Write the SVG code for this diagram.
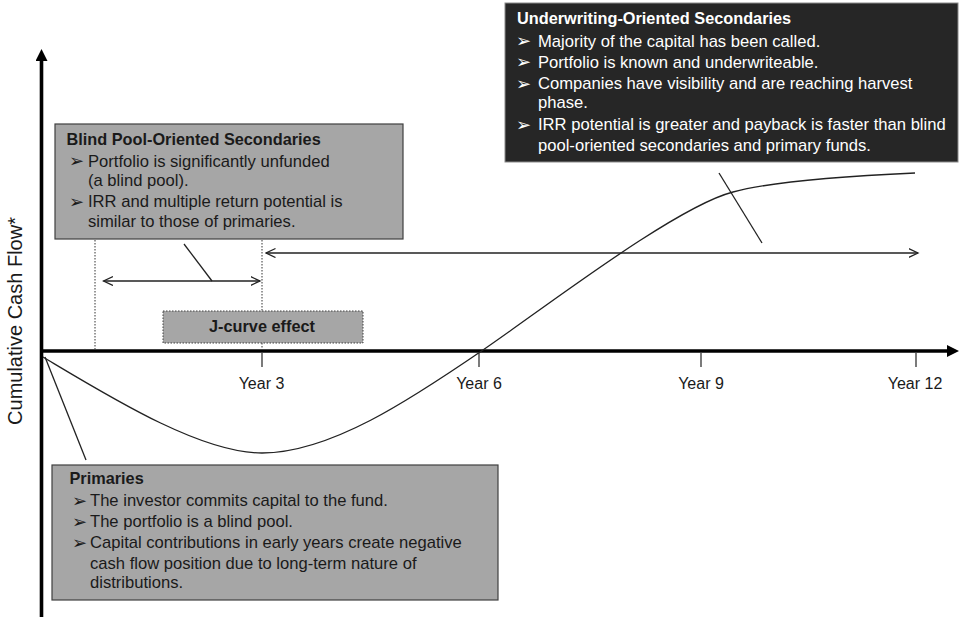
<svg xmlns="http://www.w3.org/2000/svg" width="960" height="617" viewBox="0 0 960 617">
<style>
text{font-family:"Liberation Sans",Arial,sans-serif;fill:#1a1a1a}
.t{font-size:16.3px;font-weight:bold}
.b{font-size:16.6px}
.bl{font-family:"DejaVu Sans","Liberation Sans",sans-serif;font-size:18px}
.w{fill:#ffffff}
.yr{font-size:16px;text-anchor:middle}
.ax{stroke:#000;stroke-width:3.6;fill:none}
.tick{stroke:#333;stroke-width:1.3}
.dot{stroke:#333;stroke-width:1;stroke-dasharray:1.5 1.5;fill:none}
.ln{stroke:#222;stroke-width:1.3;fill:none}
.grey{fill:#a6a6a6;stroke:#404040;stroke-width:1.2}
</style>
<defs>
<marker id="axh" markerUnits="userSpaceOnUse" markerWidth="13" markerHeight="13" refX="0" refY="6" orient="auto"><path d="M0,0 L12,6 L0,12 z" fill="#000"/></marker>
<marker id="oa" markerUnits="userSpaceOnUse" markerWidth="11" markerHeight="11" refX="9.5" refY="5" orient="auto-start-reverse"><path d="M0,0.5 L9.5,5 L0,9.5" fill="none" stroke="#222" stroke-width="1.3"/></marker>
</defs>
<rect width="960" height="617" fill="#fff"/>

<g id="axes">
<line class="ax" x1="41.5" y1="617" x2="41.5" y2="61" marker-end="url(#axh)"/>
<line class="ax" x1="40" y1="351" x2="947" y2="351" marker-end="url(#axh)"/>
<line class="tick" x1="262" y1="353" x2="262" y2="367"/>
<line class="tick" x1="479" y1="353" x2="479" y2="367"/>
<line class="tick" x1="701" y1="353" x2="701" y2="367"/>
<line class="tick" x1="916" y1="353" x2="916" y2="367"/>
<text class="yr" x="261.5" y="389">Year 3</text>
<text class="yr" x="479" y="389">Year 6</text>
<text class="yr" x="701" y="389">Year 9</text>
<text class="yr" x="915" y="389">Year 12</text>
<text transform="translate(22,321) rotate(-90)" text-anchor="middle" font-size="20">Cumulative Cash Flow*</text>
</g>

<g id="curve">
<path class="ln" d="M43,357 C110,397 200,453 262,453 C330,453 410,400 483,350 C543,309 675,207 733,192 C773,181 850,176 915,173"/>
</g>

<g id="connectors">
<line class="dot" x1="95" y1="240" x2="95" y2="349"/>
<line class="dot" x1="262" y1="240" x2="262" y2="311"/>
<line class="dot" x1="262" y1="343" x2="262" y2="349"/>
<line class="ln" x1="103.5" y1="281" x2="260" y2="281" marker-start="url(#oa)" marker-end="url(#oa)"/>
<line class="ln" x1="266" y1="253" x2="918" y2="253" marker-start="url(#oa)" marker-end="url(#oa)"/>
<line class="ln" x1="184" y1="244" x2="212" y2="281"/>
<line class="ln" x1="719" y1="173" x2="762" y2="243"/>
<line class="ln" x1="45" y1="357" x2="86" y2="460"/>
</g>

<g id="underwriting">
<rect x="505" y="3" width="453" height="159" fill="#262626" stroke="#8a8a8a" stroke-width="1"/>
<text class="t w" x="517" y="24">Underwriting-Oriented Secondaries</text>
<text class="bl w" x="516" y="47">➢</text>
<text class="b w" x="538" y="46.5">Majority of the capital has been called.</text>
<text class="bl w" x="516" y="68">➢</text>
<text class="b w" x="538" y="67.5">Portfolio is known and underwriteable.</text>
<text class="bl w" x="516" y="89.5">➢</text>
<text class="b w" x="538" y="89">Companies have visibility and are reaching harvest</text>
<text class="b w" x="538" y="108">phase.</text>
<text class="bl w" x="516" y="130.5">➢</text>
<text class="b w" x="538" y="130">IRR potential is greater and payback is faster than blind</text>
<text class="b w" x="538" y="150.5">pool-oriented secondaries and primary funds.</text>
</g>

<g id="blindpool">
<rect class="grey" x="55" y="124" width="348" height="115"/>
<text class="t" x="66.5" y="145">Blind Pool-Oriented Secondaries</text>
<text class="bl" x="69" y="167">➢</text>
<text class="b" x="88" y="166.5">Portfolio is significantly unfunded</text>
<text class="b" x="88" y="186">(a blind pool).</text>
<text class="bl" x="69" y="207.5">➢</text>
<text class="b" x="88" y="207">IRR and multiple return potential is</text>
<text class="b" x="88" y="227">similar to those of primaries.</text>
</g>

<g id="jcurve">
<rect x="163" y="311" width="200" height="32" fill="#a6a6a6" stroke="#404040" stroke-width="1" stroke-dasharray="1.5 1.5"/>
<text class="t" x="262" y="332" text-anchor="middle" font-size="17px">J-curve effect</text>
</g>

<g id="primaries">
<rect class="grey" x="52" y="465" width="446" height="135"/>
<text class="t" x="69.5" y="483.5">Primaries</text>
<text class="bl" x="72" y="506.5">➢</text>
<text class="b" x="90" y="506">The investor commits capital to the fund.</text>
<text class="bl" x="72" y="527.5">➢</text>
<text class="b" x="90" y="527">The portfolio is a blind pool.</text>
<text class="bl" x="72" y="548.5">➢</text>
<text class="b" x="90" y="548">Capital contributions in early years create negative</text>
<text class="b" x="90" y="568.5">cash flow position due to long-term nature of</text>
<text class="b" x="90" y="588">distributions.</text>
</g>
</svg>
